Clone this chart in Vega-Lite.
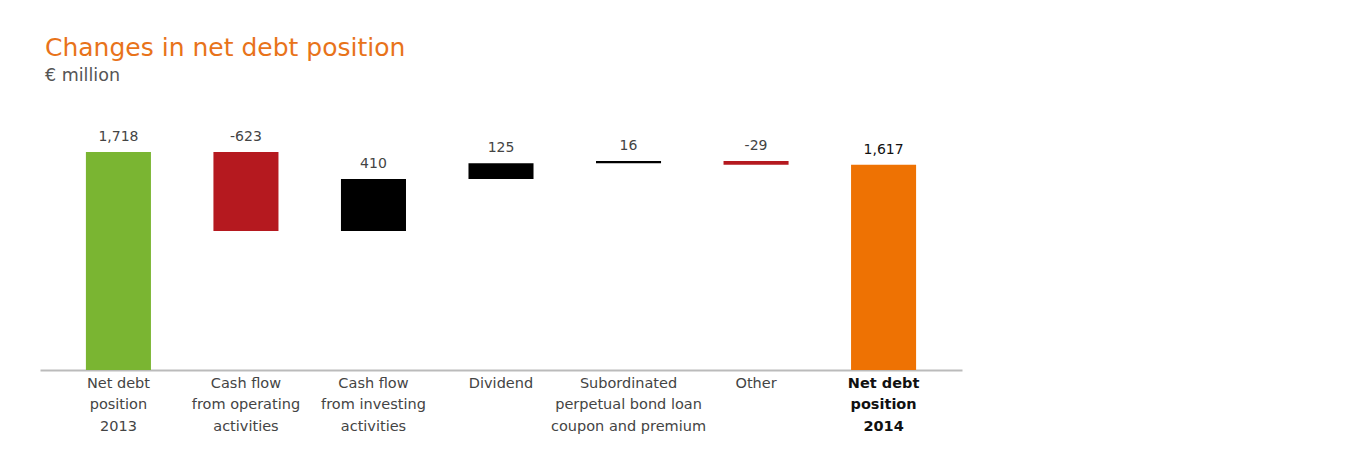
{
  "$schema": "https://vega.github.io/schema/vega-lite/v6.json",
  "width": 922,
  "height": 250,
  "autosize": "none",
  "padding": {"left": 40, "top": 120, "right": 398, "bottom": 87},
  "background": "white",
  "title": {
    "text": "Changes in net debt position",
    "subtitle": "€ million",
    "anchor": "start",
    "frame": "group",
    "dx": 5,
    "offset": 36,
    "font": "DejaVu Sans",
    "fontSize": 25,
    "fontWeight": "normal",
    "color": "#E8731A",
    "subtitleFont": "DejaVu Sans",
    "subtitleFontSize": 17.5,
    "subtitleColor": "#555555",
    "subtitlePadding": 6
  },
  "data": {
    "values": [
      {"cat": "Net debt|position|2013", "start": 0, "end": 1718, "label": "1,718", "kind": "start"},
      {"cat": "Cash flow|from operating|activities", "start": 1718, "end": 1095, "label": "-623", "kind": "neg"},
      {"cat": "Cash flow|from investing|activities", "start": 1095, "end": 1505, "label": "410", "kind": "pos"},
      {"cat": "Dividend", "start": 1505, "end": 1630, "label": "125", "kind": "pos"},
      {"cat": "Subordinated|perpetual bond loan|coupon and premium", "start": 1630, "end": 1646, "label": "16", "kind": "pos"},
      {"cat": "Other", "start": 1646, "end": 1617, "label": "-29", "kind": "neg"},
      {"cat": "Net debt|position|2014", "start": 0, "end": 1617, "label": "1,617", "kind": "end"}
    ]
  },
  "encoding": {
    "x": {
      "field": "cat",
      "type": "nominal",
      "sort": null,
      "scale": {"paddingInner": 0.49, "paddingOuter": 0.36},
      "axis": {
        "title": null,
        "labelAngle": 0,
        "labelExpr": "split(datum.value, '|')",
        "labelFont": "DejaVu Sans",
        "labelFontSize": 14.5,
        "labelLineHeight": 21.5,
        "labelColor": {"condition": {"test": "datum.value == 'Net debt|position|2014'", "value": "#111111"}, "value": "#444444"},
        "labelFontWeight": {"condition": {"test": "datum.value == 'Net debt|position|2014'", "value": "bold"}, "value": "normal"},
        "labelPadding": 6,
        "ticks": false,
        "domainColor": "#bbbbbb",
        "domainWidth": 2,
        "labelLimit": 200
      }
    }
  },
  "layer": [
    {
      "mark": {"type": "bar"},
      "encoding": {
        "y": {"field": "start", "type": "quantitative", "scale": {"domain": [0, 1970], "nice": false}, "axis": null},
        "y2": {"field": "end"},
        "color": {
          "field": "kind",
          "type": "nominal",
          "scale": {"domain": ["start", "neg", "pos", "end"], "range": ["#7AB532", "#B5191F", "#000000", "#EE7203"]},
          "legend": null
        }
      }
    },
    {
      "transform": [
        {"fold": ["start", "end"], "as": ["which", "v"]},
        {"aggregate": [{"op": "max", "field": "v", "as": "top"}], "groupby": ["cat", "label", "kind"]}
      ],
      "mark": {"type": "text", "baseline": "bottom", "dy": -8, "font": "DejaVu Sans", "fontSize": 14},
      "encoding": {
        "y": {"field": "top", "type": "quantitative"},
        "text": {"field": "label"},
        "color": {"condition": {"test": "datum.kind == 'end'", "value": "#111111"}, "value": "#444444"},
        "fontWeight": {"condition": {"test": "datum.kind == 'end'", "value": "bold"}, "value": "normal"}
      }
    }
  ],
  "config": {"view": {"stroke": null}}
}
